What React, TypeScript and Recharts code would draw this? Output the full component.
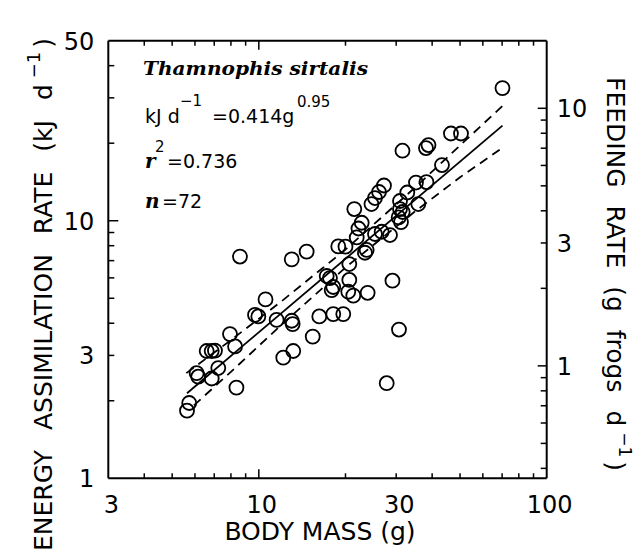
import React from 'react';
import { ScatterChart, Scatter, XAxis, YAxis, Customized } from 'recharts';

// ---- data ----
const bodyMass = [
  5.63, 5.73, 6.08, 6.16, 6.86, 7.23, 6.59, 6.86, 7.04, 7.94,
  8.27, 8.36, 8.6, 9.7, 9.96, 10.55, 11.53, 13.01, 13.11, 12.16,
  13.17, 13.01, 14.66, 15.39, 16.22, 18.14, 19.65, 17.21, 17.66, 18.14,
  17.91, 20.62, 20.45, 21.29, 23.88, 29.12, 30.68, 27.81, 20.62, 18.88,
  20.0, 23.37, 23.69, 21.88, 22.19, 22.77, 25.32, 26.71, 28.55, 21.46,
  24.62, 25.32, 26.15, 27.21, 30.93, 30.93, 31.6, 31.18, 35.81, 32.79,
  35.15, 38.22, 31.55, 38.07, 38.84, 43.27, 46.49, 50.38, 70.21, 30.6,
];
const energyRate = [
  1.83, 1.96, 2.56, 2.48, 2.44, 2.68, 3.12, 3.12, 3.13, 3.63,
  3.25, 2.25, 7.26, 4.31, 4.25, 4.95, 4.12, 4.09, 3.97, 2.94,
  3.12, 7.08, 7.59, 3.55, 4.25, 4.34, 4.34, 6.1, 5.99, 5.53,
  5.38, 5.89, 5.3, 5.12, 5.25, 5.85, 3.78, 2.34, 6.79, 7.95,
  7.93, 7.51, 7.7, 8.61, 9.33, 9.82, 8.88, 9.06, 8.8, 11.1,
  11.61, 12.25, 12.93, 13.7, 11.93, 11.1, 10.81, 9.88, 11.61, 12.87,
  14.07, 14.13, 18.7, 19.15, 19.67, 16.45, 21.81, 21.81, 32.74, 10.3,
];

const fitMass = [5.63, 70.2];
const fitRate = [2.14, 23.4];
const upperMass = [5.6, 8, 12, 20, 35, 50, 70.2];
const upperRate = [2.56, 3.44, 4.87, 7.73, 13.5, 19.6, 27.9];
const lowerMass = [5.95, 8, 12, 20, 35, 50, 70.2];
const lowerRate = [1.92, 2.59, 3.95, 6.58, 10.9, 14.75, 19.2];

const xDomain = [3, 100];
const xTicks = [3, 4, 5, 6, 7, 8, 9, 10, 20, 30, 40, 50, 60, 70, 80, 90, 100];
const xTickLabels = [3, 10, 30, 100];
const xMajor = [10];

const yDomain = [1, 50];
const yTicks = [1, 2, 3, 4, 5, 6, 7, 8, 9, 10, 20, 30, 40, 50];
const yTickLabels = [1, 3, 10, 50];
const yMajor = [10];

const feedDomain = [0.366, 18.3];
const feedTicks = [0.4, 0.5, 0.6, 0.7, 0.8, 0.9, 1, 2, 3, 4, 5, 6, 7, 8, 9, 10];
const feedTickLabels = [1, 3, 10];
const feedMajor = [1, 10];

const points = bodyMass.map((m, i) => ({ x: m, y: energyRate[i] }));
const fitData = fitMass.map((m, i) => ({ x: m, y: fitRate[i] }));
const upperData = upperMass.map((m, i) => ({ x: m, y: upperRate[i] }));
const lowerData = lowerMass.map((m, i) => ({ x: m, y: lowerRate[i] }));

const FONT = '"DejaVu Sans", sans-serif';
const SERIF = '"DejaVu Serif", serif';
const TICK_W = 1.5;

const BottomTick = (props: any) => {
  const { x, y, payload } = props;
  const v = payload.value;
  const edge = v === xDomain[0] || v === xDomain[1];
  const len = xMajor.includes(v) ? 9 : 5;
  return (
    <g>
      {!edge && <line x1={x} y1={y} x2={x} y2={y - len} stroke="#000" strokeWidth={TICK_W} />}
      {xTickLabels.includes(v) && (
        <text x={x + 3} y={y + 35} textAnchor="middle" fontFamily={FONT} fontSize={24} fill="#000">
          {v}
        </text>
      )}
    </g>
  );
};

const TopTick = (props: any) => {
  const { x, y, payload } = props;
  const v = payload.value;
  const edge = v === xDomain[0] || v === xDomain[1];
  const len = xMajor.includes(v) ? 9 : 5;
  if (edge) return <g />;
  return <line x1={x} y1={y} x2={x} y2={y + len} stroke="#000" strokeWidth={TICK_W} />;
};

const LeftTick = (props: any) => {
  const { x, y, payload } = props;
  const v = payload.value;
  const edge = v === yDomain[0] || v === yDomain[1];
  const len = yMajor.includes(v) ? 10 : 6;
  return (
    <g>
      {!edge && <line x1={x} y1={y} x2={x + len} y2={y} stroke="#000" strokeWidth={TICK_W} />}
      {yTickLabels.includes(v) && (
        <text x={x - 14} y={y + 9} textAnchor="end" fontFamily={FONT} fontSize={24} fill="#000">
          {v}
        </text>
      )}
    </g>
  );
};

const RightTick = (props: any) => {
  const { x, y, payload } = props;
  const v = payload.value;
  const len = feedMajor.includes(v) ? 9 : 6;
  return (
    <g>
      <line x1={x} y1={y} x2={x - len} y2={y} stroke="#000" strokeWidth={TICK_W} />
      {feedTickLabels.includes(v) && (
        <text x={x + 10} y={y + 9} textAnchor="start" fontFamily={FONT} fontSize={24} fill="#000">
          {v}
        </text>
      )}
    </g>
  );
};

const Circle = (props: any) => {
  const { cx, cy } = props;
  if (cx == null || cy == null) return <g />;
  return <circle cx={cx} cy={cy} r={7} fill="none" stroke="#000" strokeWidth={1.8} />;
};

const NoShape = () => <g />;

const Texts = () => (
  <g fill="#000">
    <text x={143} y={75} fontFamily={SERIF} fontStyle="italic" fontWeight="bold" fontSize={19} textLength={225} lengthAdjust="spacingAndGlyphs">
      Thamnophis sirtalis
    </text>
    <text x={145} y={123} fontFamily={FONT} fontSize={19}>kJ d</text>
    <text x={180} y={106} fontFamily={FONT} fontSize={15}>−1</text>
    <text x={212} y={123} fontFamily={FONT} fontSize={19}>=0.414g</text>
    <text x={297} y={107} fontFamily={FONT} fontSize={15}>0.95</text>

    <text x={145} y={168} fontFamily={SERIF} fontStyle="italic" fontWeight="bold" fontSize={20}>r</text>
    <text x={155} y={152} fontFamily={FONT} fontSize={15}>2</text>
    <text x={167} y={168} fontFamily={FONT} fontSize={19}>=0.736</text>

    <text x={145} y={208} fontFamily={SERIF} fontStyle="italic" fontWeight="bold" fontSize={20}>n</text>
    <text x={162} y={208} fontFamily={FONT} fontSize={19}>=72</text>

    <text x={320} y={540} textAnchor="middle" fontFamily={FONT} fontSize={25}>BODY MASS (g)</text>

    <text x={52} y={551} transform="rotate(-90 52 551)" fontFamily={FONT} fontSize={25} wordSpacing={12}>
      ENERGY ASSIMILATION RATE (kJ d
      <tspan dx={6} dy={-12} fontSize={18}>−1</tspan>
      <tspan dx={4} dy={12} fontSize={25}>)</tspan>
    </text>

    <text x={607} y={77} transform="rotate(90 607 77)" fontFamily={FONT} fontSize={25} wordSpacing={10}>
      FEEDING RATE (g frogs d
      <tspan dx={6} dy={-12} fontSize={17}>−1</tspan>
      <tspan dx={4} dy={12} fontSize={25}>)</tspan>
    </text>
  </g>
);

export default function App() {
  return (
    <div style={{ position: 'absolute', left: 0, top: 0, background: '#fff' }}>
      <ScatterChart
        width={643}
        height={557}
        margin={{ top: 30.7, right: 36.3, bottom: 38.7, left: 48.3 }}
      >
        <XAxis
          type="number"
          dataKey="x"
          scale="log"
          domain={xDomain}
          allowDataOverflow
          ticks={xTicks}
          interval={0}
          tickSize={0}
          tickMargin={0}
          tickLine={false}
          height={40}
          axisLine={{ stroke: '#000', strokeWidth: 2 }}
          tick={<BottomTick />}
        />
        <XAxis
          xAxisId="top"
          orientation="top"
          type="number"
          dataKey="x"
          scale="log"
          domain={xDomain}
          allowDataOverflow
          ticks={xTicks}
          interval={0}
          tickSize={0}
          tickMargin={0}
          tickLine={false}
          height={10}
          axisLine={{ stroke: '#000', strokeWidth: 2 }}
          tick={<TopTick />}
        />
        <YAxis
          yAxisId="left"
          type="number"
          dataKey="y"
          scale="log"
          domain={yDomain}
          allowDataOverflow
          ticks={yTicks}
          interval={0}
          tickSize={0}
          tickMargin={0}
          tickLine={false}
          width={60}
          axisLine={{ stroke: '#000', strokeWidth: 2 }}
          tick={<LeftTick />}
        />
        <YAxis
          yAxisId="right"
          orientation="right"
          type="number"
          dataKey="y"
          scale="log"
          domain={feedDomain}
          allowDataOverflow
          ticks={feedTicks}
          interval={0}
          tickSize={0}
          tickMargin={0}
          tickLine={false}
          width={60}
          axisLine={{ stroke: '#000', strokeWidth: 2 }}
          tick={<RightTick />}
        />
        <Scatter
          yAxisId="left"
          data={upperData}
          line={{ stroke: '#000', strokeWidth: 1.8, strokeDasharray: '9 6' }}
          shape={NoShape}
          isAnimationActive={false}
        />
        <Scatter
          yAxisId="left"
          data={lowerData}
          line={{ stroke: '#000', strokeWidth: 1.8, strokeDasharray: '9 6' }}
          shape={NoShape}
          isAnimationActive={false}
        />
        <Scatter
          yAxisId="left"
          data={fitData}
          line={{ stroke: '#000', strokeWidth: 1.8 }}
          shape={NoShape}
          isAnimationActive={false}
        />
        <Scatter
          yAxisId="left"
          data={points}
          shape={Circle}
          isAnimationActive={false}
        />
        <Customized component={Texts} />
      </ScatterChart>
    </div>
  );
}
